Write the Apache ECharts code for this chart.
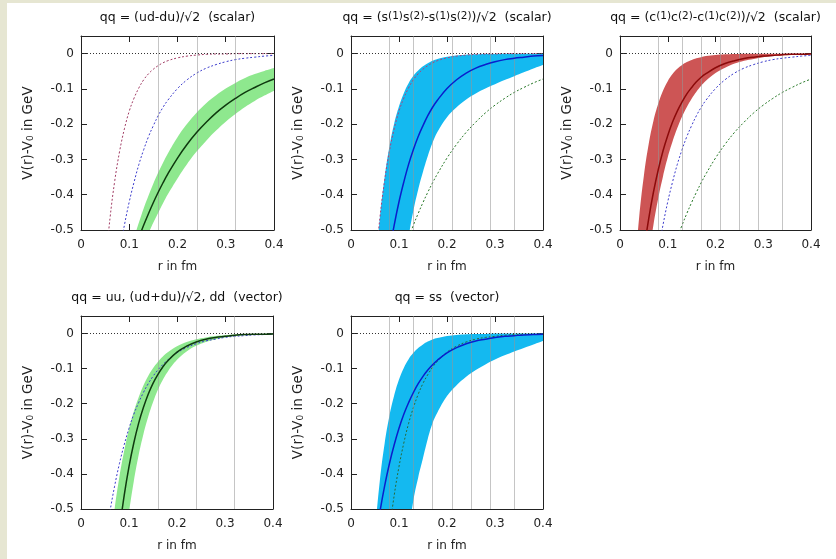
<!DOCTYPE html>
<html>
<head>
<meta charset="utf-8">
<script src="https://cdn.jsdelivr.net/npm/echarts@6/dist/echarts.min.js"></script>
<style>html,body{margin:0;padding:0;background:#fff;}#c{width:836px;height:559px;}</style>
</head>
<body>
<div id="c"></div>
<script>
// r grid (fm)
const R = [0.03,0.04,0.05,0.06,0.07,0.08,0.09,0.10,0.11,0.12,0.13,0.14,0.15,0.16,0.17,0.18,0.20,0.22,0.24,0.26,0.28,0.30,0.32,0.34,0.36,0.38,0.40];

// light scalar diquark (ud-du)/sqrt2
const LS_center = [null,null,null,null,null,null,null,-0.601,-0.560,-0.522,-0.486,-0.453,-0.422,-0.393,-0.366,-0.341,-0.296,-0.257,-0.223,-0.194,-0.168,-0.146,-0.127,-0.110,-0.096,-0.083,-0.072];
const LS_upper  = [null,null,null,null,null,null,null,-0.570,-0.522,-0.479,-0.438,-0.402,-0.368,-0.337,-0.309,-0.283,-0.237,-0.199,-0.167,-0.140,-0.118,-0.099,-0.083,-0.069,-0.058,-0.049,-0.041];
const LS_lower  = [null,null,null,null,null,null,null,null,null,-0.575,-0.541,-0.509,-0.479,-0.451,-0.424,-0.399,-0.354,-0.313,-0.277,-0.246,-0.218,-0.193,-0.171,-0.151,-0.134,-0.119,-0.105];

// strange scalar diquark
const SS_center = [null,null,null,null,null,-0.561,-0.486,-0.420,-0.364,-0.314,-0.272,-0.235,-0.204,-0.176,-0.152,-0.132,-0.099,-0.074,-0.055,-0.041,-0.031,-0.023,-0.017,-0.013,-0.010,-0.007,-0.005];
const SS_upper  = [null,null,-0.621,-0.467,-0.351,-0.264,-0.198,-0.149,-0.112,-0.084,-0.063,-0.048,-0.036,-0.027,-0.020,-0.015,-0.009,-0.005,-0.003,-0.002,-0.001,-0.001,0,0,0,0,0];
const SS_lower  = [null,null,null,null,null,null,null,null,-0.620,-0.520,-0.445,-0.385,-0.335,-0.290,-0.252,-0.222,-0.180,-0.152,-0.130,-0.113,-0.099,-0.087,-0.075,-0.064,-0.053,-0.042,-0.032];

// charm scalar diquark
const CS_center = [null,null,-0.560,-0.469,-0.393,-0.330,-0.276,-0.232,-0.194,-0.163,-0.137,-0.114,-0.096,-0.080,-0.067,-0.057,-0.040,-0.028,-0.020,-0.014,-0.010,-0.007,-0.005,-0.003,-0.002,-0.002,-0.001];
const CS_upper  = [-0.627,-0.466,-0.346,-0.257,-0.191,-0.142,-0.105,-0.078,-0.058,-0.043,-0.032,-0.024,-0.018,-0.013,-0.010,-0.007,-0.004,-0.002,-0.001,0,0,0,0,0,0,0,0];
const CS_lower  = [null,null,null,-0.574,-0.486,-0.411,-0.348,-0.294,-0.249,-0.211,-0.178,-0.151,-0.128,-0.108,-0.091,-0.077,-0.055,-0.040,-0.028,-0.020,-0.015,-0.010,-0.007,-0.005,-0.004,-0.003,-0.002];
// charm reference curve (dotted, top-left and top-middle panels)
const CS_ref    = [null,null,-0.609,-0.468,-0.360,-0.277,-0.213,-0.163,-0.126,-0.097,-0.074,-0.057,-0.044,-0.034,-0.026,-0.020,-0.012,-0.007,-0.004,-0.002,-0.001,-0.001,0,0,0,0,0];

// light vector diquark
const LV_center = [null,null,null,null,null,-0.561,-0.461,-0.379,-0.312,-0.256,-0.211,-0.173,-0.142,-0.117,-0.096,-0.079,-0.053,-0.036,-0.024,-0.016,-0.011,-0.008,-0.005,-0.003,-0.002,-0.002,-0.001];
const LV_upper  = [null,null,null,-0.612,-0.500,-0.408,-0.334,-0.272,-0.222,-0.182,-0.148,-0.121,-0.099,-0.081,-0.066,-0.054,-0.036,-0.024,-0.016,-0.011,-0.007,-0.005,-0.003,-0.002,-0.001,-0.001,0];
const LV_lower  = [null,null,null,null,null,null,-0.617,-0.510,-0.421,-0.347,-0.287,-0.237,-0.196,-0.161,-0.133,-0.110,-0.075,-0.051,-0.035,-0.024,-0.016,-0.011,-0.008,-0.005,-0.004,-0.002,-0.002];

// strange vector diquark
const SV_center = [null,null,-0.597,-0.510,-0.435,-0.371,-0.317,-0.270,-0.230,-0.197,-0.168,-0.143,-0.122,-0.104,-0.089,-0.076,-0.055,-0.040,-0.029,-0.021,-0.016,-0.011,-0.008,-0.006,-0.004,-0.003,-0.002];
const SV_upper  = [null,null,-0.562,-0.420,-0.314,-0.235,-0.176,-0.131,-0.098,-0.073,-0.055,-0.041,-0.031,-0.023,-0.017,-0.013,-0.007,-0.004,-0.002,-0.001,-0.001,0,0,0,0,0,0];
const SV_lower  = [null,null,null,null,null,null,null,null,null,-0.570,-0.475,-0.410,-0.355,-0.300,-0.255,-0.225,-0.178,-0.147,-0.123,-0.104,-0.088,-0.074,-0.062,-0.051,-0.041,-0.031,-0.021];

// vertical lattice lines (fm)
const VLINES_LIGHT = [0.158,0.237,0.316];
const VLINES_FINE  = [0.084,0.126,0.168,0.210,0.252,0.294,0.336];

const X_TICKS = ['0','0.1','0.2','0.3','0.4'];
const TITLES = [
  'qq = (ud-du)/√2  (scalar)',
  'qq = (s{sup|(1)}s{sup|(2)}-s{sup|(1)}s{sup|(2)})/√2  (scalar)',
  'qq = (c{sup|(1)}c{sup|(2)}-c{sup|(1)}c{sup|(2)})/√2  (scalar)',
  'qq = uu, (ud+du)/√2, dd  (vector)',
  'qq = ss  (vector)'
];

const FONT = 'DejaVu Sans';
const TXT = '#222222';

const GRIDS = [
  {left:81, top:36, width:193, height:194},
  {left:351, top:36, width:192, height:194},
  {left:620, top:36, width:191, height:194},
  {left:81, top:316, width:192, height:193},
  {left:351, top:316, width:192, height:193}
];

const PANELS = [
  {up:LS_upper, lo:LS_lower, band:'#8ee88e', c:LS_center, cc:'#0f3a0f', refs:[[CS_ref,'#a03c64'],[SS_center,'#3c3ccc']], vl:VLINES_LIGHT},
  {up:SS_upper, lo:SS_lower, band:'#14b9f0', c:SS_center, cc:'#0a1ecc', refs:[[CS_ref,'#b0407a'],[LS_center,'#2a7a2a']], vl:VLINES_FINE},
  {up:CS_upper, lo:CS_lower, band:'#cd5555', c:CS_center, cc:'#8b0a0a', refs:[[SS_center,'#3c3ccc'],[LS_center,'#2a7a2a']], vl:VLINES_FINE},
  {up:LV_upper, lo:LV_lower, band:'#8ee88e', c:LV_center, cc:'#0f3a0f', refs:[[SV_center,'#3c3ccc']], vl:VLINES_LIGHT},
  {up:SV_upper, lo:SV_lower, band:'#14b9f0', c:SV_center, cc:'#0a1ecc', refs:[[LV_center,'#2a6a3a']], vl:VLINES_FINE}
];

function pairs(arr){ return R.map((r,k)=>[r,arr[k]]).filter(p=>p[1]!==null); }

const xAxis=[], yAxis=[], series=[], title=[];
GRIDS.forEach((g,i)=>{
  [false,true].forEach(top=>{
    xAxis.push({type:'value', gridIndex:i, min:0, max:0.4, interval:0.1, position:top?'top':'bottom',
      axisLine:{show:true,onZero:false,lineStyle:{color:'#222',width:1}},
      axisTick:{show:true,inside:true,length:6,lineStyle:{color:'#222'}},
      axisLabel:{show:!top,margin:9,fontFamily:FONT,fontSize:12,color:TXT,
        formatter:v=>X_TICKS[Math.round(v*10)]},
      splitLine:{show:false},
      name:top?'':'r in fm', nameLocation:'middle', nameGap:31,
      nameTextStyle:{fontFamily:FONT,fontSize:12,color:TXT}});
  });
  [false,true].forEach(right=>{
    yAxis.push({type:'value', gridIndex:i, min:-0.5, max:0.05, interval:0.1, position:right?'right':'left',
      axisLine:{show:true,onZero:false,lineStyle:{color:'#222',width:1}},
      axisTick:{show:true,inside:true,length:6,lineStyle:{color:'#222'}},
      axisLabel:{show:!right,showMaxLabel:false,margin:7,fontFamily:FONT,fontSize:12,color:TXT,
        formatter:v=>Math.abs(v)<1e-9?'0':v.toFixed(1)},
      splitLine:{show:false},
      name:right?'':'V(r)-V{sub|0} in GeV', nameLocation:'middle', nameGap:46,
      nameTextStyle:{fontFamily:FONT,fontSize:13.5,color:TXT,
        rich:{sub:{fontFamily:FONT,fontSize:9,color:TXT,verticalAlign:'bottom'}}}});
  });
  const p = PANELS[i];
  const base = {type:'line', xAxisIndex:2*i, yAxisIndex:2*i, symbol:'none', showSymbol:false,
    smooth:0.4, clip:true, silent:true, animation:false};
  series.push(Object.assign({}, base, {data:pairs(p.up), z:1,
    lineStyle:{width:0,opacity:0}, areaStyle:{color:p.band,opacity:1,origin:'start'}}));
  series.push(Object.assign({}, base, {data:pairs(p.lo), z:2,
    lineStyle:{width:0,opacity:0}, areaStyle:{color:'#ffffff',opacity:1,origin:'start'}}));
  series.push(Object.assign({}, base, {data:[], z:3,
    markLine:{silent:true, symbol:['none','none'], label:{show:false}, animation:false,
      emphasis:{disabled:true},
      data: p.vl.map(x=>({xAxis:x, lineStyle:{color:'rgba(150,150,150,0.55)',width:1,type:'solid'}}))
        .concat([{yAxis:0, lineStyle:{color:'#333',width:1,type:[1,2]}}])}}));
  p.refs.forEach(([arr,col])=>{
    series.push(Object.assign({}, base, {data:pairs(arr), z:4,
      lineStyle:{color:col,width:1,type:[2,2]}}));
  });
  series.push(Object.assign({}, base, {data:pairs(p.c), z:5,
    lineStyle:{color:p.cc,width:1.5}}));
  title.push({text:TITLES[i], left:g.left+g.width/2, top:g.top-25, textAlign:'center', padding:0,
    textStyle:{fontFamily:FONT,fontSize:12.5,fontWeight:'normal',color:'#111',
      rich:{sup:{fontFamily:FONT,fontSize:10.5,color:'#111',verticalAlign:'top'}}}});
});

const chart = echarts.init(document.getElementById('c'), null, {renderer:'canvas'});
chart.setOption({
  animation:false,
  backgroundColor:'#ffffff',
  graphic:[
    {type:'rect', shape:{x:0,y:0,width:7,height:559}, style:{fill:'#e6e6d2'}, silent:true, z:-1},
    {type:'rect', shape:{x:0,y:0,width:836,height:3}, style:{fill:'#e6e6d2'}, silent:true, z:-1}
  ],
  title, grid:GRIDS, xAxis, yAxis, series
});
</script>
</body>
</html>
